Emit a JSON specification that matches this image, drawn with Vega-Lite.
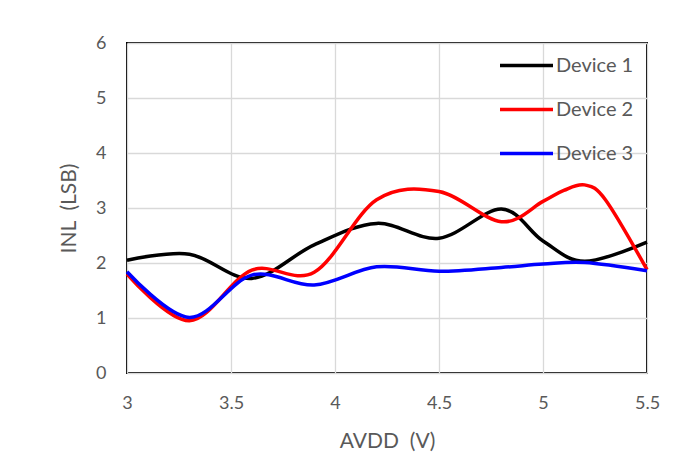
{
  "$schema": "https://vega.github.io/schema/vega-lite/v6.json",
  "autosize": "none",
  "width": 520,
  "height": 330,
  "padding": {"left": 127, "top": 43, "right": 53, "bottom": 84},
  "background": "white",
  "config": {
    "font": "Lato",
    "view": {"stroke": "black", "strokeWidth": 2},
    "axis": {
      "labelFont": "Lato",
      "titleFont": "Lato",
      "labelColor": "#595959",
      "titleColor": "#595959",
      "labelFontSize": 18,
      "titleFontSize": 21,
      "titleFontWeight": "normal",
      "gridColor": "#d9d9d9",
      "gridWidth": 1.3,
      "domain": false,
      "ticks": false
    }
  },
  "data": {
    "values": [
      {"v": 3.0, "inl": 2.05, "dev": "Device 1"},
      {"v": 3.3, "inl": 2.16, "dev": "Device 1"},
      {"v": 3.6, "inl": 1.72, "dev": "Device 1"},
      {"v": 3.9, "inl": 2.33, "dev": "Device 1"},
      {"v": 4.2, "inl": 2.72, "dev": "Device 1"},
      {"v": 4.5, "inl": 2.45, "dev": "Device 1"},
      {"v": 4.8, "inl": 2.98, "dev": "Device 1"},
      {"v": 5.0, "inl": 2.4, "dev": "Device 1"},
      {"v": 5.2, "inl": 2.03, "dev": "Device 1"},
      {"v": 5.5, "inl": 2.38, "dev": "Device 1"},
      {"v": 3.0, "inl": 1.8, "dev": "Device 2"},
      {"v": 3.3, "inl": 0.95, "dev": "Device 2"},
      {"v": 3.6, "inl": 1.87, "dev": "Device 2"},
      {"v": 3.9, "inl": 1.83, "dev": "Device 2"},
      {"v": 4.2, "inl": 3.15, "dev": "Device 2"},
      {"v": 4.5, "inl": 3.3, "dev": "Device 2"},
      {"v": 4.8, "inl": 2.75, "dev": "Device 2"},
      {"v": 5.0, "inl": 3.12, "dev": "Device 2"},
      {"v": 5.1, "inl": 3.32, "dev": "Device 2"},
      {"v": 5.2, "inl": 3.42, "dev": "Device 2"},
      {"v": 5.3, "inl": 3.15, "dev": "Device 2"},
      {"v": 5.5, "inl": 1.88, "dev": "Device 2"},
      {"v": 3.0, "inl": 1.84, "dev": "Device 3"},
      {"v": 3.3, "inl": 1.01, "dev": "Device 3"},
      {"v": 3.6, "inl": 1.78, "dev": "Device 3"},
      {"v": 3.9, "inl": 1.6, "dev": "Device 3"},
      {"v": 4.2, "inl": 1.93, "dev": "Device 3"},
      {"v": 4.5, "inl": 1.85, "dev": "Device 3"},
      {"v": 4.8, "inl": 1.92, "dev": "Device 3"},
      {"v": 5.0, "inl": 1.98, "dev": "Device 3"},
      {"v": 5.2, "inl": 2.01, "dev": "Device 3"},
      {"v": 5.5, "inl": 1.86, "dev": "Device 3"}
    ]
  },
  "mark": {"type": "line", "interpolate": "cardinal", "strokeWidth": 3.5},
  "encoding": {
    "x": {
      "field": "v", "type": "quantitative",
      "scale": {"domain": [3, 5.5], "nice": false, "zero": false},
      "axis": {"title": "AVDD\u00a0 (V)", "values": [3, 3.5, 4, 4.5, 5, 5.5], "format": "~g", "labelPadding": 21, "titlePadding": 18, "labelFlush": false}
    },
    "y": {
      "field": "inl", "type": "quantitative",
      "scale": {"domain": [0, 6], "nice": false},
      "axis": {"title": "INL\u00a0 (LSB)", "values": [0, 1, 2, 3, 4, 5, 6], "format": "~g", "labelPadding": 21, "titlePadding": 16}
    },
    "color": {
      "field": "dev", "type": "nominal",
      "scale": {"domain": ["Device 1", "Device 2", "Device 3"], "range": ["#000000", "#ff0000", "#0000ff"]},
      "legend": {
        "title": null,
        "orient": "none",
        "legendX": 371,
        "legendY": -6,
        "symbolType": "M-1,0H1",
        "symbolSize": 2809,
        "symbolStrokeWidth": 3.5,
        "labelFont": "Lato",
        "labelFontSize": 20,
        "labelColor": "#595959",
        "labelOffset": 1,
        "rowPadding": 5
      }
    },
    "order": {"field": "dev"}
  }
}
